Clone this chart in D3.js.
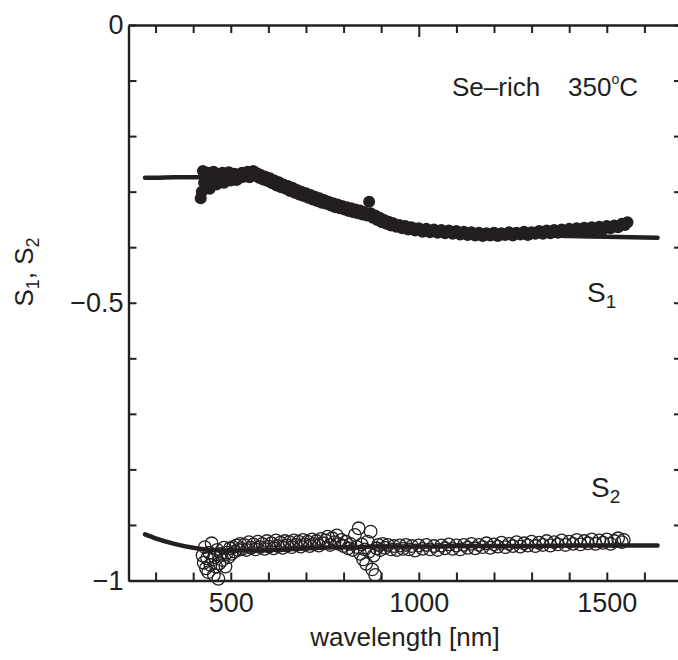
<!DOCTYPE html>
<html>
<head>
<meta charset="utf-8">
<script src="https://cdn.jsdelivr.net/npm/d3@7"></script>
<style>
  body { margin: 0; background: #fff; }
  svg text { font-family: "Liberation Sans", Arial, Helvetica, sans-serif; fill: #231f20; }
</style>
</head>
<body>
<svg id="chart" width="678" height="660"></svg>
<script>
// данные: длина волны (нм) и значения S1, S2
const fitLam = [272, 300, 350, 400, 450, 500, 560, 600, 650, 700, 737, 780, 826, 870, 915, 960, 1000, 1050, 1100, 1150, 1200, 1300, 1400, 1500, 1635];
const s1Fit = [-0.275, -0.275, -0.274, -0.274, -0.273, -0.273, -0.276, -0.285, -0.300, -0.312, -0.320, -0.329, -0.338, -0.345, -0.351, -0.357, -0.361, -0.366, -0.370, -0.373, -0.375, -0.378, -0.380, -0.381, -0.383];
const s2Fit = [-0.917, -0.924, -0.934, -0.941, -0.945, -0.946, -0.946, -0.945, -0.944, -0.942, -0.941, -0.940, -0.940, -0.939, -0.939, -0.939, -0.939, -0.939, -0.938, -0.938, -0.938, -0.938, -0.937, -0.937, -0.937];

const s1Lam = [420, 423, 426, 429, 432, 435, 438, 441, 444, 447, 450, 454, 458, 462, 466, 470, 474, 478, 482, 486, 490, 495, 500, 505, 510, 515, 520, 525, 530, 535, 540, 545, 550, 555, 560, 565, 570, 575, 580, 586, 592, 598, 604, 610, 616, 622, 628, 634, 640, 646, 652, 658, 664, 670, 676, 682, 688, 694, 700, 706, 712, 718, 724, 730, 736, 742, 748, 754, 760, 766, 772, 778, 784, 790, 796, 802, 808, 814, 820, 826, 832, 838, 844, 850, 856, 862, 868, 872, 878, 884, 890, 896, 902, 908, 914, 920, 926, 932, 940, 948, 956, 964, 972, 980, 990, 1000, 1010, 1020, 1030, 1040, 1050, 1060, 1070, 1080, 1090, 1100, 1110, 1120, 1130, 1140, 1150, 1160, 1170, 1180, 1190, 1200, 1210, 1220, 1230, 1240, 1250, 1260, 1270, 1280, 1290, 1300, 1310, 1320, 1330, 1340, 1350, 1360, 1370, 1380, 1390, 1400, 1410, 1420, 1430, 1440, 1450, 1460, 1470, 1480, 1490, 1500, 1510, 1520, 1530, 1540, 1548, 1555];
const s1Val = [-0.312, -0.300, -0.263, -0.284, -0.272, -0.290, -0.266, -0.280, -0.295, -0.270, -0.283, -0.264, -0.278, -0.287, -0.269, -0.281, -0.273, -0.266, -0.284, -0.271, -0.277, -0.265, -0.280, -0.272, -0.268, -0.279, -0.270, -0.275, -0.266, -0.273, -0.269, -0.264, -0.274, -0.268, -0.263, -0.271, -0.267, -0.275, -0.270, -0.278, -0.273, -0.281, -0.276, -0.285, -0.280, -0.289, -0.283, -0.292, -0.287, -0.295, -0.290, -0.299, -0.293, -0.302, -0.297, -0.305, -0.300, -0.308, -0.303, -0.311, -0.306, -0.314, -0.309, -0.317, -0.312, -0.320, -0.315, -0.322, -0.318, -0.325, -0.321, -0.328, -0.323, -0.330, -0.326, -0.332, -0.328, -0.335, -0.330, -0.337, -0.332, -0.339, -0.334, -0.341, -0.337, -0.343, -0.318, -0.339, -0.347, -0.343, -0.351, -0.347, -0.355, -0.351, -0.358, -0.354, -0.361, -0.357, -0.363, -0.360, -0.366, -0.362, -0.368, -0.364, -0.370, -0.366, -0.372, -0.367, -0.373, -0.368, -0.374, -0.369, -0.375, -0.370, -0.376, -0.371, -0.377, -0.372, -0.378, -0.373, -0.379, -0.374, -0.380, -0.375, -0.379, -0.374, -0.380, -0.375, -0.378, -0.373, -0.379, -0.374, -0.377, -0.372, -0.378, -0.373, -0.376, -0.371, -0.376, -0.370, -0.375, -0.369, -0.374, -0.368, -0.373, -0.367, -0.372, -0.366, -0.371, -0.365, -0.370, -0.364, -0.369, -0.363, -0.368, -0.362, -0.366, -0.361, -0.364, -0.358, -0.360, -0.355];

const s2Lam = [425, 428, 431, 434, 437, 440, 443, 446, 449, 452, 455, 458, 461, 464, 467, 470, 474, 478, 482, 486, 490, 494, 498, 502, 506, 510, 515, 520, 525, 530, 536, 542, 548, 554, 560, 566, 572, 578, 584, 590, 596, 602, 608, 614, 620, 626, 632, 638, 644, 650, 656, 662, 668, 674, 680, 686, 692, 698, 704, 710, 716, 722, 728, 734, 740, 746, 752, 758, 764, 770, 776, 782, 788, 794, 800, 806, 812, 818, 824, 830, 836, 840, 844, 848, 852, 856, 860, 864, 868, 872, 876, 880, 884, 888, 892, 898, 904, 910, 918, 926, 934, 942, 950, 958, 966, 974, 982, 990, 1000, 1010, 1020, 1030, 1040, 1050, 1060, 1070, 1080, 1090, 1100, 1110, 1120, 1130, 1140, 1150, 1160, 1170, 1180, 1190, 1200, 1210, 1220, 1230, 1240, 1250, 1260, 1270, 1280, 1290, 1300, 1310, 1320, 1330, 1340, 1350, 1360, 1370, 1380, 1390, 1400, 1410, 1420, 1430, 1440, 1450, 1460, 1470, 1480, 1490, 1500, 1510, 1520, 1530, 1540, 1545];
const s2Val = [-0.955, -0.968, -0.940, -0.978, -0.960, -0.985, -0.950, -0.972, -0.933, -0.962, -0.990, -0.958, -0.975, -0.945, -0.997, -0.969, -0.952, -0.963, -0.941, -0.975, -0.950, -0.958, -0.942, -0.952, -0.940, -0.948, -0.937, -0.945, -0.934, -0.943, -0.936, -0.945, -0.931, -0.941, -0.935, -0.944, -0.930, -0.940, -0.934, -0.943, -0.929, -0.939, -0.933, -0.942, -0.928, -0.938, -0.932, -0.941, -0.929, -0.937, -0.931, -0.940, -0.928, -0.936, -0.930, -0.939, -0.927, -0.935, -0.930, -0.938, -0.926, -0.934, -0.929, -0.937, -0.925, -0.933, -0.928, -0.921, -0.936, -0.924, -0.931, -0.919, -0.934, -0.927, -0.938, -0.930, -0.942, -0.934, -0.945, -0.918, -0.940, -0.906, -0.952, -0.935, -0.962, -0.944, -0.970, -0.930, -0.948, -0.912, -0.980, -0.955, -0.990, -0.942, -0.936, -0.945, -0.934, -0.941, -0.936, -0.944, -0.938, -0.945, -0.937, -0.943, -0.936, -0.944, -0.938, -0.946, -0.937, -0.943, -0.936, -0.944, -0.938, -0.945, -0.937, -0.942, -0.935, -0.943, -0.937, -0.944, -0.936, -0.941, -0.934, -0.942, -0.936, -0.940, -0.933, -0.941, -0.935, -0.939, -0.932, -0.940, -0.934, -0.938, -0.931, -0.939, -0.933, -0.937, -0.930, -0.938, -0.932, -0.936, -0.929, -0.937, -0.931, -0.935, -0.928, -0.936, -0.930, -0.934, -0.927, -0.935, -0.929, -0.933, -0.926, -0.934, -0.928, -0.932, -0.926, -0.934, -0.929, -0.924, -0.931, -0.927];

const xTicks = d3.range(300, 1700, 100);
const xLabels = [500, 1000, 1500];
const yTicks = d3.range(0, 11).map(i => -i / 10);
const yLabels = [0, -0.5, -1];

const svg = d3.select("#chart");
const ink = "#231f20";

// шкалы
const x = d3.scaleLinear().domain([228, 1700]).range([128.5, 682]);
const y = d3.scaleLinear().domain([-1, 0]).range([580.5, 25]);

const x0 = x.range()[0], x1 = x.range()[1];
const y0 = y.range()[0], y1 = y.range()[1];

// линии аппроксимации
const fitData1 = fitLam.map((l, i) => ({ l: l, v: s1Fit[i] }));
const fitData2 = fitLam.map((l, i) => ({ l: l, v: s2Fit[i] }));
const line = d3.line().x(d => x(d.l)).y(d => y(d.v)).curve(d3.curveMonotoneX);

// точки S1 (закрашенные)
svg.append("g")
  .selectAll("circle")
  .data(s1Lam.map((l, i) => ({ l: l, v: s1Val[i] })))
  .enter().append("circle")
  .attr("cx", d => x(d.l))
  .attr("cy", d => y(d.v))
  .attr("r", 6)
  .attr("fill", ink);

svg.append("path").datum(fitData1)
  .attr("fill", "none").attr("stroke", ink).attr("stroke-width", 4.5)
  .attr("stroke-linecap", "round").attr("d", line);

// точки S2 (пустые)
svg.append("g")
  .selectAll("circle")
  .data(s2Lam.map((l, i) => ({ l: l, v: s2Val[i] })))
  .enter().append("circle")
  .attr("cx", d => x(d.l))
  .attr("cy", d => y(d.v))
  .attr("r", 6.3)
  .attr("fill", "none")
  .attr("stroke", ink)
  .attr("stroke-width", 1.3);

svg.append("path").datum(fitData2)
  .attr("fill", "none").attr("stroke", ink).attr("stroke-width", 4.5)
  .attr("stroke-linecap", "round").attr("d", line);

// оси: засечки внутрь
const bottomTicks = svg.append("g").attr("transform", `translate(0, ${y0})`)
  .call(d3.axisBottom(x).tickValues(xTicks).tickSizeInner(-8).tickSizeOuter(0).tickFormat(""));
const topTicks = svg.append("g").attr("transform", `translate(0, ${y1})`)
  .call(d3.axisTop(x).tickValues(xTicks).tickSizeInner(-8).tickSizeOuter(0).tickFormat(""));
topTicks.selectAll("g.tick line").filter(d => d === 1000).attr("y2", 12);
const leftTicks = svg.append("g").attr("transform", `translate(${x0}, 0)`)
  .call(d3.axisLeft(y).tickValues(yTicks).tickSizeInner(-8).tickSizeOuter(0).tickFormat(""));
const rightTicks = svg.append("g").attr("transform", `translate(${x1}, 0)`)
  .call(d3.axisRight(y).tickValues(yTicks).tickSizeInner(-8).tickSizeOuter(0).tickFormat(""));

[bottomTicks, topTicks, leftTicks, rightTicks].forEach(g => {
  g.select(".domain").attr("stroke", ink).attr("stroke-width", 2.4);
  g.selectAll("line").attr("stroke", ink).attr("stroke-width", 2);
});

// подписи осей
const bottomLabels = svg.append("g").attr("transform", `translate(0, ${y0})`)
  .call(d3.axisBottom(x).tickValues(xLabels).tickSize(0).tickPadding(12).tickFormat(d3.format("d")));
const leftLabels = svg.append("g").attr("transform", `translate(${x0}, 0)`)
  .call(d3.axisLeft(y).tickValues(yLabels).tickSize(0).tickPadding(5).tickFormat(d3.format("")));
[bottomLabels, leftLabels].forEach(g => {
  g.select(".domain").remove();
  g.selectAll("text").attr("font-size", 27).attr("fill", ink)
    .attr("font-family", "Liberation Sans, Arial, sans-serif");
});

svg.append("text")
  .attr("x", 405).attr("y", 646)
  .attr("text-anchor", "middle").attr("font-size", 26)
  .text("wavelength [nm]");

const yTitle = svg.append("text")
  .attr("transform", "translate(33, 272) rotate(-90)")
  .attr("text-anchor", "middle").attr("font-size", 26);
yTitle.append("tspan").text("S");
yTitle.append("tspan").attr("font-size", 18).attr("dy", 6).text("1");
yTitle.append("tspan").attr("dy", -6).text(", S");
yTitle.append("tspan").attr("font-size", 18).attr("dy", 6).text("2");

// заголовок
const title = svg.append("text").attr("x", 452).attr("y", 96).attr("font-size", 26);
title.append("tspan").text("Se\u2013rich");
title.append("tspan").attr("x", 568).text("350");
title.append("tspan").attr("font-size", 14).attr("dy", -12).text("o");
title.append("tspan").attr("dy", 12).text("C");

// подписи серий
const lab1 = svg.append("text").attr("x", 587).attr("y", 302).attr("font-size", 28);
lab1.append("tspan").text("S");
lab1.append("tspan").attr("font-size", 19).attr("dy", 6).text("1");
const lab2 = svg.append("text").attr("x", 591).attr("y", 497).attr("font-size", 28);
lab2.append("tspan").text("S");
lab2.append("tspan").attr("font-size", 19).attr("dy", 6).text("2");
</script>
</body>
</html>
